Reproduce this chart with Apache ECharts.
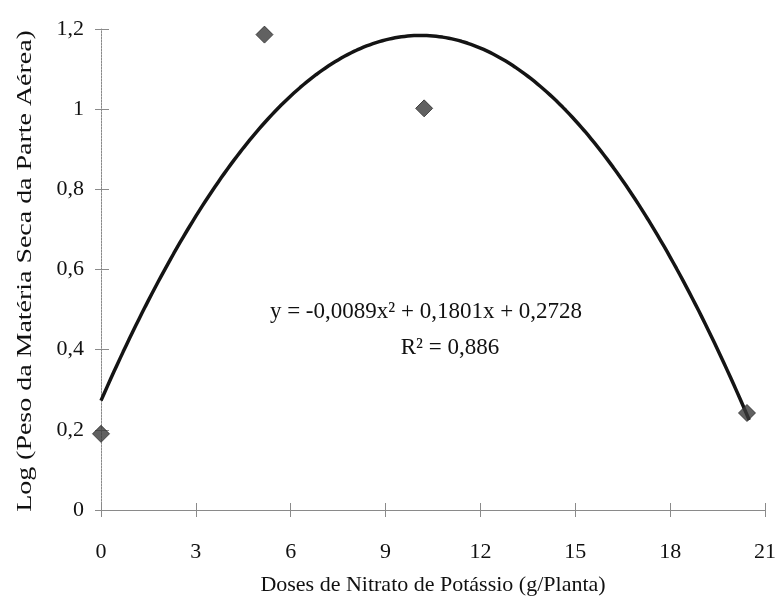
<!DOCTYPE html>
<html>
<head>
<meta charset="utf-8">
<script src="https://cdn.jsdelivr.net/npm/echarts@6/dist/echarts.min.js"></script>
<style>
  html, body { margin: 0; padding: 0; background: #fff; }
  #chart { width: 781px; height: 606px; }
</style>
</head>
<body>
<div id="chart"></div>
<script>
// Observed doses (g/planta) and log of shoot dry weight
const doses = [0, 5.17, 10.22, 20.43];
const logPeso = [0.19, 1.186, 1.002, 0.242];

// Quadratic trend: y = a*x^2 + b*x + c, and its coefficient of determination
const trendCoef = [-0.0089, 0.1801, 0.2728];
const trendR2 = 0.886;
const trendRange = [0, 20.5];

const xAxisTitle = 'Doses de Nitrato de Potássio (g/Planta)';
const yAxisTitle = 'Log (Peso da Matéria Seca da Parte Aérea)';

const fmtNum = (v) => String(v).replace('.', ',');

const scatterData = doses.map((d, i) => [d, logPeso[i]]);

const trendData = [];
for (let k = Math.round(trendRange[0] * 10); k <= Math.round(trendRange[1] * 10); k++) {
  const x = k / 10;
  trendData.push([x, trendCoef[0] * x * x + trendCoef[1] * x + trendCoef[2]]);
}

const eqLine = 'y = ' + fmtNum(trendCoef[0]) + 'x² + ' + fmtNum(trendCoef[1]) + 'x + ' + fmtNum(trendCoef[2]);
const r2Line = 'R² = ' + fmtNum(trendR2);

const serif = '"Liberation Serif", "DejaVu Serif", serif';
const axisColor = '#8a8a8a';

const chart = echarts.init(document.getElementById('chart'), null, { renderer: 'canvas' });
chart.setOption({
  backgroundColor: '#ffffff',
  animation: false,
  grid: { left: 101, right: 16, top: 29, bottom: 96 },
  xAxis: [
    {
      type: 'value', min: 0, max: 21, interval: 3,
      position: 'bottom',
      name: xAxisTitle, nameLocation: 'middle', nameGap: 64,
      nameTextStyle: { fontFamily: serif, fontSize: 22, color: '#111' },
      axisLine: { onZero: false, lineStyle: { color: axisColor, width: 1 } },
      axisTick: { show: true, inside: false, length: 7, lineStyle: { color: axisColor } },
      axisLabel: { margin: 31, fontFamily: serif, fontSize: 22, color: '#111' },
      splitLine: { show: false }
    },
    {
      type: 'value', min: 0, max: 21, interval: 3,
      position: 'bottom',
      axisLine: { show: false, onZero: false },
      axisTick: { show: true, inside: true, length: 7, lineStyle: { color: axisColor } },
      axisLabel: { show: false },
      splitLine: { show: false }
    }
  ],
  yAxis: [
    {
      type: 'value', min: 0, max: 1.2, interval: 0.2,
      position: 'left',
      axisLine: { show: true, onZero: false, lineStyle: { color: axisColor, width: 1, type: [2, 1] } },
      axisTick: { show: true, inside: false, length: 6, lineStyle: { color: axisColor } },
      axisLabel: {
        margin: 17, fontFamily: serif, fontSize: 22, color: '#111',
        formatter: (v) => fmtNum(Math.round(v * 10) / 10)
      },
      splitLine: { show: false }
    },
    {
      type: 'value', min: 0, max: 1.2, interval: 0.2,
      position: 'left', offset: 0,
      axisLine: { show: false, onZero: false },
      axisTick: { show: true, inside: true, length: 8, lineStyle: { color: axisColor } },
      axisLabel: { show: false },
      splitLine: { show: false }
    }
  ],
  series: [
    {
      name: 'Tendência',
      type: 'line',
      data: trendData,
      showSymbol: false,
      smooth: false,
      lineStyle: { color: '#141414', width: 3.5 },
      z: 2
    },
    {
      name: 'Observado',
      type: 'scatter',
      data: scatterData,
      symbol: 'diamond',
      symbolSize: [17, 17],
      itemStyle: { color: '#3a3a3a', borderColor: '#2a2a2a', borderWidth: 1 },
      z: 3
    }
  ],
  graphic: [
    {
      // vertical axis title, stretched along its length
      type: 'text', x: 25, y: 271, rotation: Math.PI / 2, scaleX: 1.27,
      style: { text: yAxisTitle, font: '22px ' + serif, fill: '#111', align: 'center', verticalAlign: 'middle' }
    },
    {
      type: 'text', x: 426, y: 312,
      style: { text: eqLine, font: '23px ' + serif, fill: '#111', align: 'center', verticalAlign: 'middle' }
    },
    {
      type: 'text', x: 450, y: 348,
      style: { text: r2Line, font: '23px ' + serif, fill: '#111', align: 'center', verticalAlign: 'middle' }
    }
  ]
});
</script>
</body>
</html>
